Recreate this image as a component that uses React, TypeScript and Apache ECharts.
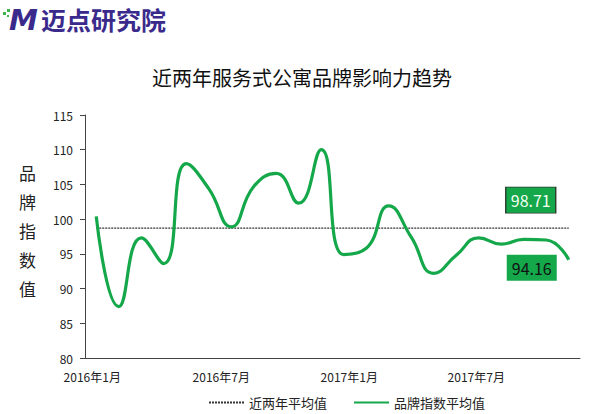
import React, { useEffect, useRef } from "react";
import * as echarts from "echarts";

const months = [
  "2016年1月", "2016年2月", "2016年3月", "2016年4月", "2016年5月", "2016年6月",
  "2016年7月", "2016年8月", "2016年9月", "2016年10月", "2016年11月", "2016年12月",
  "2017年1月", "2017年2月", "2017年3月", "2017年4月", "2017年5月", "2017年6月",
  "2017年7月", "2017年8月", "2017年9月", "2017年10月",
];
const brandIndex = [
  100.4, 87.4, 97.3, 93.6, 108.0, 104.4, 98.9, 104.7, 106.6, 102.3, 110.0, 94.9,
  95.8, 101.9, 97.4, 92.2, 94.8, 97.3, 96.4, 97.1, 97.0, 94.16,
];
const avgValue = 98.71;
const avgLine = months.map(() => avgValue);
const yTicks = { min: 80, max: 115, interval: 5 };

const GREEN = "#14a84b";
const PURPLE = "#3a2a8c";
const FONT = "'Noto Sans CJK SC', 'Noto Sans', sans-serif";

// per-label horizontal nudge (styling only)
const labelStyleByIndex: Record<number, string> = { 0: "a", 6: "b", 12: "c", 18: "d" };

export default function App() {
  const ref = useRef<HTMLDivElement>(null);
  useEffect(() => {
    if (!ref.current) return;
    const chart = echarts.init(ref.current, null, { renderer: "svg" });
    const lab = (pad: number) => ({ fontSize: 12, color: "#222", fontFamily: FONT, padding: [0, pad, 0, 0] });
    chart.setOption({
      animation: false,
      backgroundColor: "#ffffff",
      textStyle: { fontFamily: FONT },
      title: {
        text: "近两年服务式公寓品牌影响力趋势",
        left: 297,
        textAlign: "center",
        top: 62,
        textStyle: { fontSize: 20, fontWeight: "normal", color: "#111", fontFamily: FONT },
      },
      graphic: [
        { type: "rect", left: 3, top: 12, shape: { width: 3, height: 3 }, style: { fill: "#3cb64a" } },
        { type: "rect", left: 7, top: 9, shape: { width: 3, height: 3 }, style: { fill: "#3cb64a" } },
        { type: "rect", left: 7, top: 15, shape: { width: 2, height: 2 }, style: { fill: "#3cb64a" } },
        {
          type: "text", left: 9, top: 5,
          style: { text: "M", fill: PURPLE, font: "italic bold 29px 'DejaVu Sans', sans-serif" },
        },
        {
          type: "text", left: 41, top: 6,
          style: { text: "迈点研究院", fill: PURPLE, font: "bold 25px 'Noto Sans CJK SC', sans-serif" },
        },
        {
          type: "text", left: 19, top: 158,
          style: {
            text: "品\n牌\n指\n数\n值", fill: "#222", lineHeight: 29,
            font: "17px 'Noto Sans CJK SC', sans-serif",
          },
        },
      ],
      legend: {
        left: 203,
        top: 391,
        itemGap: 26,
        itemWidth: 35,
        itemHeight: 10,
        itemStyle: { opacity: 0 },
        textStyle: { fontSize: 13, color: "#222", fontFamily: FONT },
        data: ["近两年平均值", "品牌指数平均值"],
      },
      grid: { left: 85, right: 20, top: 115, bottom: 56 },
      xAxis: {
        type: "category",
        data: months,
        boundaryGap: true,
        axisLine: { lineStyle: { color: "#444", width: 1 } },
        axisTick: { interval: 5, length: 5, lineStyle: { color: "#444" } },
        axisLabel: {
          interval: 5, margin: 12,
          formatter: (v: string, i: number) => `{${labelStyleByIndex[i] || "a"}|${v}}`,
          rich: { a: lab(8), b: lab(20), c: lab(34), d: lab(50) },
        },
        splitLine: { show: false },
      },
      yAxis: {
        type: "value",
        min: yTicks.min,
        max: yTicks.max,
        interval: yTicks.interval,
        axisLine: { show: true, lineStyle: { color: "#444", width: 1 } },
        axisTick: { show: true, length: 5, lineStyle: { color: "#444" } },
        axisLabel: { fontSize: 12, color: "#222", margin: 12, fontFamily: FONT },
        splitLine: { show: false },
      },
      series: [
        {
          name: "近两年平均值",
          type: "line",
          data: avgLine,
          symbol: "none",
          lineStyle: { color: "#333", width: 1.2, type: [2, 1] },
          itemStyle: { color: "#333" },
          z: 2,
          markPoint: {
            symbol: "rect",
            symbolSize: [50, 26],
            symbolOffset: [-38, -28],
            data: [{ coord: [months.length - 1, avgValue], value: avgValue }],
            itemStyle: { color: GREEN, borderColor: "#2a3a2a", borderWidth: 1 },
            label: {
              show: true, position: "inside", color: "#f4fff4", fontSize: 16,
              fontFamily: FONT, formatter: () => avgValue.toFixed(2),
            },
          },
        },
        {
          name: "品牌指数平均值",
          type: "line",
          data: brandIndex,
          smooth: 0.5,
          symbol: "none",
          lineStyle: { color: GREEN, width: 3.2 },
          itemStyle: { color: GREEN },
          z: 3,
          markPoint: {
            symbol: "rect",
            symbolSize: [50, 26],
            symbolOffset: [-37, 8],
            data: [{ coord: [months.length - 1, brandIndex[brandIndex.length - 1]] }],
            itemStyle: { color: GREEN },
            label: {
              show: true, position: "inside", color: "#111", fontSize: 16,
              fontFamily: FONT, formatter: () => brandIndex[brandIndex.length - 1].toFixed(2),
            },
          },
        },
      ],
    });
    return () => chart.dispose();
  }, []);
  return (
    <div
      ref={ref}
      style={{ position: "fixed", left: 0, top: 0, width: 600, height: 414 }}
    />
  );
}
